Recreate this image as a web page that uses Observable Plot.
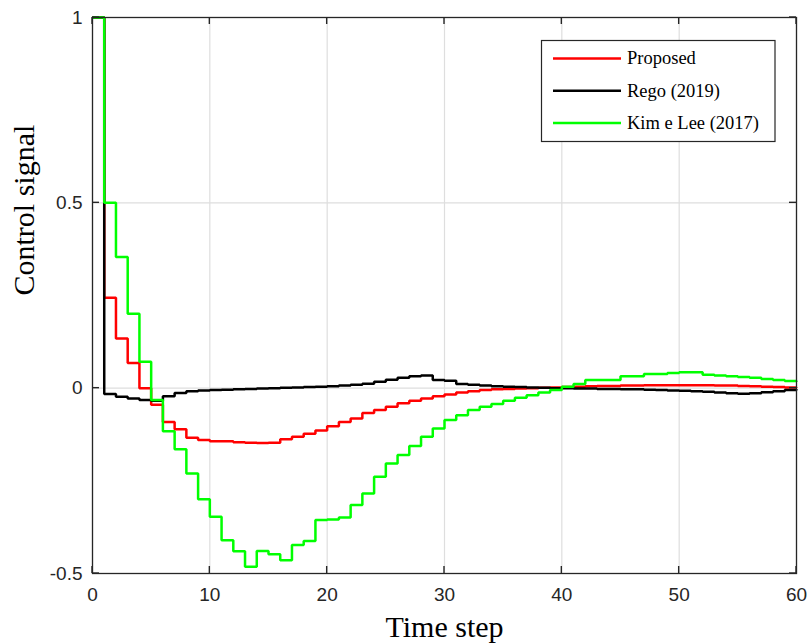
<!DOCTYPE html>
<html>
<head>
<meta charset="utf-8">
<script src="https://cdn.jsdelivr.net/npm/d3@7"></script>
<script src="https://cdn.jsdelivr.net/npm/@observablehq/plot@0.6"></script>
<style>
  html, body { margin: 0; padding: 0; background: #fff; }
  #chart svg { display: block; }
</style>
</head>
<body>
<div id="chart"></div>
<script>
// Control signal per time step for the three controllers (zero-order hold)
const timeSteps = d3.range(0, 61);

const proposed = [
  1, 0.244, 0.134, 0.068, 0.0, -0.045, -0.091, -0.111, -0.134, -0.140,
  -0.143, -0.143, -0.146, -0.147, -0.148, -0.147, -0.138, -0.131, -0.123, -0.114,
  -0.103, -0.091, -0.082, -0.067, -0.059, -0.050, -0.041, -0.034, -0.028, -0.022,
  -0.017, -0.012, -0.008, -0.005, -0.003, -0.002, -0.001, 0.0, 0.001, 0.002,
  0.003, 0.004, 0.005, 0.006, 0.006, 0.007, 0.007, 0.008, 0.008, 0.008,
  0.008, 0.008, 0.008, 0.007, 0.007, 0.006, 0.005, 0.004, 0.003, 0.002,
  0.001
];

const rego2019 = [
  1, -0.016, -0.023, -0.028, -0.032, -0.034, -0.022, -0.013, -0.008, -0.006,
  -0.005, -0.004, -0.003, -0.002, -0.001, 0.0, 0.001, 0.002, 0.003, 0.004,
  0.005, 0.007, 0.009, 0.012, 0.017, 0.023, 0.028, 0.032, 0.034, 0.022,
  0.020, 0.011, 0.009, 0.007, 0.005, 0.004, 0.003, 0.002, 0.001, 0.0,
  0.0, -0.001, -0.001, -0.002, -0.002, -0.003, -0.003, -0.004, -0.005, -0.006,
  -0.007, -0.008, -0.010, -0.012, -0.014, -0.015, -0.014, -0.011, -0.008, -0.005,
  -0.003
];

const kimLee2017 = [
  1, 0.5, 0.354, 0.201, 0.071, -0.032, -0.116, -0.165, -0.230, -0.300,
  -0.347, -0.410, -0.440, -0.482, -0.439, -0.448, -0.464, -0.423, -0.412, -0.356,
  -0.354, -0.349, -0.315, -0.284, -0.239, -0.203, -0.180, -0.156, -0.131, -0.109,
  -0.086, -0.073, -0.059, -0.050, -0.043, -0.034, -0.026, -0.019, -0.012, -0.005,
  0.004, 0.011, 0.022, 0.022, 0.022, 0.032, 0.032, 0.038, 0.038, 0.041,
  0.043, 0.043, 0.036, 0.034, 0.032, 0.030, 0.028, 0.025, 0.022, 0.019,
  0.017
];

const seriesNames = ["Proposed", "Rego (2019)", "Kim e Lee (2017)"];
const seriesColors = ["#ff0000", "#000000", "#00ff00"];
const seriesValues = [proposed, rego2019, kimLee2017];

const xTicks = [0, 10, 20, 30, 40, 50, 60];
const yTicks = [-0.5, 0, 0.5, 1];
const yTickLabels = ["-0.5", "0", "0.5", "1"];
const xTitle = "Time step";
const yTitle = "Control signal";

// Long-format table built from the arrays above
const rows = seriesValues.flatMap((vals, s) =>
  timeSteps.map((t, i) => ({t, v: vals[i], series: seriesNames[s]}))
);

const axisColor = "#262626";
const sansFont = "'Liberation Sans', Arial, Helvetica, sans-serif";
const serifFont = "'Liberation Serif', 'Times New Roman', Times, serif";
const lineWidth = 2.5;
const xMin = xTicks[0], xMax = xTicks[xTicks.length - 1];
const yMin = yTicks[0], yMax = yTicks[yTicks.length - 1];

const chart = Plot.plot({
  width: 809,
  height: 644,
  marginLeft: 92,
  marginRight: 13,
  marginTop: 17,
  marginBottom: 71,
  style: {background: "#fff", overflow: "visible"},
  x: {domain: [xMin, xMax]},
  y: {domain: [yMin, yMax]},
  color: {domain: seriesNames, range: seriesColors},
  marks: [
    Plot.gridX(xTicks, {stroke: "#dedede", strokeOpacity: 1, strokeWidth: 1.2}),
    Plot.gridY(yTicks, {stroke: "#dedede", strokeOpacity: 1, strokeWidth: 1.2}),
    Plot.line(rows, {
      x: "t", y: "v", z: "series", stroke: "series",
      curve: "step-after", strokeWidth: lineWidth, strokeLinejoin: "miter", strokeLinecap: "butt"
    }),
    Plot.frame({stroke: axisColor, strokeWidth: 1.3}),
    Plot.axisX(xTicks, {
      tickSize: 0, tickPadding: 14, label: null, fontSize: 19,
      fontFamily: sansFont, fill: axisColor
    }),
    Plot.axisY(yTicks, {
      tickSize: 0, tickPadding: 10, label: null, fontSize: 19,
      fontFamily: sansFont, fill: axisColor,
      tickFormat: d => yTickLabels[yTicks.indexOf(d)]
    }),
    Plot.text([xTitle], {
      frameAnchor: "bottom", dy: 63, lineAnchor: "bottom",
      fontSize: 30, fontFamily: serifFont, fill: "#000"
    }),
    Plot.text([yTitle], {
      frameAnchor: "left", dx: -59, rotate: -90, lineAnchor: "bottom",
      fontSize: 30, fontFamily: serifFont, fill: "#000"
    })
  ]
});

const svg = d3.select(chart);
const sx = chart.scale("x"), sy = chart.scale("y");
const [px0, px1] = [sx.apply(xMin), sx.apply(xMax)];
const [pyBottom, pyTop] = [sy.apply(yMin), sy.apply(yMax)];
const tickLen = 7;

// Inward tick marks on all four sides of the box
const ticks = svg.append("g")
  .attr("stroke", axisColor).attr("stroke-width", 1.4);
xTicks.forEach(v => {
  const px = sx.apply(v);
  ticks.append("line").attr("x1", px).attr("x2", px)
    .attr("y1", pyBottom).attr("y2", pyBottom - tickLen);
  ticks.append("line").attr("x1", px).attr("x2", px)
    .attr("y1", pyTop).attr("y2", pyTop + tickLen);
});
yTicks.forEach(v => {
  const py = sy.apply(v);
  ticks.append("line").attr("y1", py).attr("y2", py)
    .attr("x1", px0).attr("x2", px0 + tickLen);
  ticks.append("line").attr("y1", py).attr("y2", py)
    .attr("x1", px1).attr("x2", px1 - tickLen);
});

// Legend box in the upper right corner of the axes
const legend = svg.append("g").attr("class", "legend").attr("text-anchor", "start");
legend.append("rect")
  .attr("x", 541.5).attr("y", 40.5)
  .attr("width", 233.5).attr("height", 101)
  .attr("fill", "#fff").attr("stroke", axisColor).attr("stroke-width", 1.2);
const rowGap = 32.3;
seriesNames.forEach((name, i) => {
  const cy = 58.5 + i * rowGap;
  legend.append("line")
    .attr("x1", 553).attr("x2", 621)
    .attr("y1", cy).attr("y2", cy)
    .attr("stroke", seriesColors[i]).attr("stroke-width", lineWidth);
  legend.append("text")
    .attr("x", 627).attr("y", cy).attr("dy", "0.32em")
    .attr("text-anchor", "start")
    .attr("font-family", serifFont).attr("font-size", 18.5)
    .attr("fill", "#000")
    .text(name);
});

document.getElementById("chart").appendChild(chart);
</script>
</body>
</html>
